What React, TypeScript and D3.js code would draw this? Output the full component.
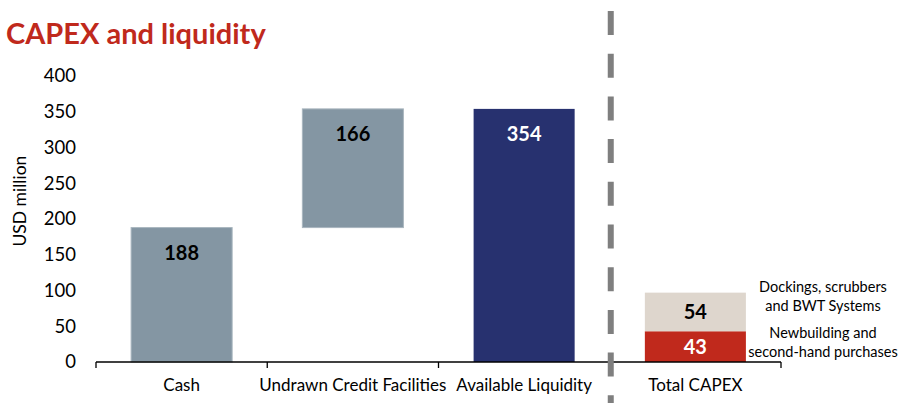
import React from "react";
import * as d3 from "d3";

const categories = ["Cash", "Undrawn Credit Facilities", "Available Liquidity", "Total CAPEX"];
const liquidityValues = [188, 166, 354];
const liquidityBases = [0, 188, 0];
const capexSegments = ["Newbuilding and\nsecond-hand purchases", "Dockings, scrubbers\nand BWT Systems"];
const capexValues = [43, 54];
const yTicks = [0, 50, 100, 150, 200, 250, 300, 350, 400];

const W = 913;
const H = 403;
const FONT = "Lato, 'Open Sans', sans-serif";

export default function App() {
  const x = d3
    .scaleBand<string>()
    .domain(categories)
    .range([96, 781])
    .paddingInner(0.41)
    .paddingOuter(0.205);
  const y = d3.scaleLinear().domain([0, 400]).range([362, 76]);
  const step = x.step();
  const x0 = x.range()[0];

  const liqColors = ["#8496a3", "#8496a3", "#27316f"];
  const liqLabelColors = ["#000", "#000", "#fff"];
  const capexColors = ["#c0291c", "#ded6cd"];
  const capexLabelColors = ["#fff", "#000"];

  const capexCat = categories[3];
  let acc = 0;
  const capexStack = capexValues.map((v, i) => {
    const s = { y0: acc, y1: acc + v, v, i };
    acc += v;
    return s;
  });

  return (
    <svg
      width={W}
      height={H}
      style={{ position: "absolute", left: 0, top: 0, background: "#fff" }}
      fontFamily={FONT}
    >
      <text x={6} y={44} fill="#c0291c" fontSize={29} fontWeight={700}>
        CAPEX and liquidity
      </text>

      {/* y tick labels */}
      {yTicks.map((t) => (
        <text key={t} x={76} y={y(t)} dy="0.35em" textAnchor="end" fontSize={18.5} fill="#000">
          {t}
        </text>
      ))}
      <text
        transform={`translate(20, ${y(225)}) rotate(-90)`}
        textAnchor="middle"
        dy="0.35em"
        fontSize={17.5}
        fill="#000"
      >
        USD million
      </text>

      {/* liquidity bars */}
      {liquidityValues.map((v, i) => {
        const c = categories[i];
        const top = y(liquidityBases[i] + v);
        const bot = y(liquidityBases[i]);
        return (
          <g key={c}>
            <rect
              x={x(c)}
              y={top}
              width={x.bandwidth()}
              height={bot - top}
              fill={liqColors[i]}
              stroke={i < 2 ? "#a9b6bf" : "none"}
              strokeWidth={1}
            />
            <text
              x={(x(c) as number) + x.bandwidth() / 2}
              y={top + 25}
              dy="0.35em"
              textAnchor="middle"
              fontSize={20}
              fontWeight={700}
              fill={liqLabelColors[i]}
            >
              {v}
            </text>
          </g>
        );
      })}

      {/* capex stack */}
      {capexStack.map((s) => {
        const top = y(s.y1);
        const bot = y(s.y0);
        return (
          <g key={s.i}>
            <rect x={x(capexCat)} y={top} width={x.bandwidth()} height={bot - top} fill={capexColors[s.i]} />
            <text
              x={(x(capexCat) as number) + x.bandwidth() / 2}
              y={(top + bot) / 2}
              dy="0.35em"
              textAnchor="middle"
              fontSize={20}
              fontWeight={700}
              fill={capexLabelColors[s.i]}
            >
              {s.v}
            </text>
          </g>
        );
      })}

      {/* segment annotations */}
      {capexStack.map((s) => {
        const lines = capexSegments[s.i].split("\n");
        const cy = s.i === 0 ? 342 : 296;
        return (
          <text key={"a" + s.i} x={823} textAnchor="middle" fontSize={14.5} fill="#000">
            {lines.map((l, j) => (
              <tspan key={j} x={823} y={cy + (j - 0.5) * 19} dy="0.35em">
                {l}
              </tspan>
            ))}
          </text>
        );
      })}

      {/* x axis */}
      <line x1={x0} x2={x.range()[1]} y1={y(0)} y2={y(0)} stroke="#000" strokeWidth={1.3} />
      {d3.range(categories.length + 1).map((i) => (
        <line
          key={i}
          x1={x0 + i * step}
          x2={x0 + i * step}
          y1={y(0)}
          y2={y(0) + 6}
          stroke="#000"
          strokeWidth={1.3}
        />
      ))}
      {categories.map((c) => (
        <text
          key={c}
          x={(x(c) as number) + x.bandwidth() / 2}
          y={385}
          dy="0.35em"
          textAnchor="middle"
          fontSize={17}
          fill="#000"
        >
          {c}
        </text>
      ))}

      {/* separator */}
      <line
        x1={x0 + 3 * step + 1}
        x2={x0 + 3 * step + 1}
        y1={11}
        y2={H}
        stroke="#7f7f7f"
        strokeWidth={6}
        strokeDasharray="24 18.7"
      />
    </svg>
  );
}
